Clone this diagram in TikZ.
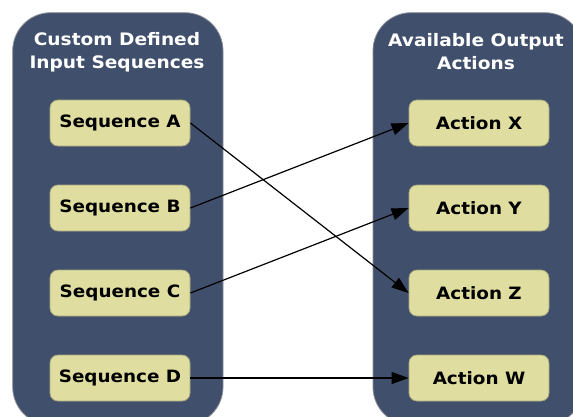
\documentclass[tikz,border=0pt]{standalone}
\usepackage{fontspec}
\setmainfont{DejaVu Sans}[FakeStretch=1.08]
\usetikzlibrary{arrows.meta}
\definecolor{panelfill}{HTML}{404F6B}
\definecolor{panelline}{HTML}{8A8F99}
\definecolor{boxfill}{HTML}{DFDDA0}
\definecolor{boxline}{HTML}{A9A77E}
\tikzset{
  panel/.style={fill=panelfill, draw=panelline, line width=0.8pt, rounded corners=38pt},
  title/.style={text=white, font=\fontsize{17.2}{23}\selectfont\bfseries, align=center},
  item/.style={fill=boxfill, draw=boxline, line width=0.8pt, rounded corners=8pt,
    minimum width=140pt, minimum height=46pt, inner sep=0pt,
    font=\fontsize{17}{20}\selectfont\bfseries},
  link/.style={line width=1.2pt, -{Triangle[length=17pt, width=12pt]}}
}
\begin{document}
\begin{tikzpicture}[x=1pt, y=-1pt]
  \useasboundingbox (0,0) rectangle (573,416);
  \clip (0,0) rectangle (573,416);
  \fill[white] (0,0) rectangle (573,416);
  % the two column panels
  \draw[panel] (12.7,12.7) rectangle (223,425);
  \draw[panel] (373,12.7) rectangle (583,425);
  \node[title] (tin) at (117,52) {Custom Defined\\Input Sequences};
  \node[title] (tout) at (476,52) {Available Output\\Actions};
  % input sequences
  \node[item] (sa) at (120,123) {Sequence A};
  \node[item] (sb) at (120,208) {Sequence B};
  \node[item] (sc) at (120,293) {Sequence C};
  \node[item] (sd) at (120,378) {Sequence D};
  % output actions
  \node[item] (ax) at (479,123) {Action X};
  \node[item] (ay) at (479,208) {Action Y};
  \node[item] (az) at (479,293) {Action Z};
  \node[item] (aw) at (479,378) {Action W};
  % mapping
  \draw[link] (sa.east) -- (az.west);
  \draw[link] (sb.east) -- (ax.west);
  \draw[link] (sc.east) -- (ay.west);
  \draw[link] (sd.east) -- (aw.west);
\end{tikzpicture}
\end{document}
